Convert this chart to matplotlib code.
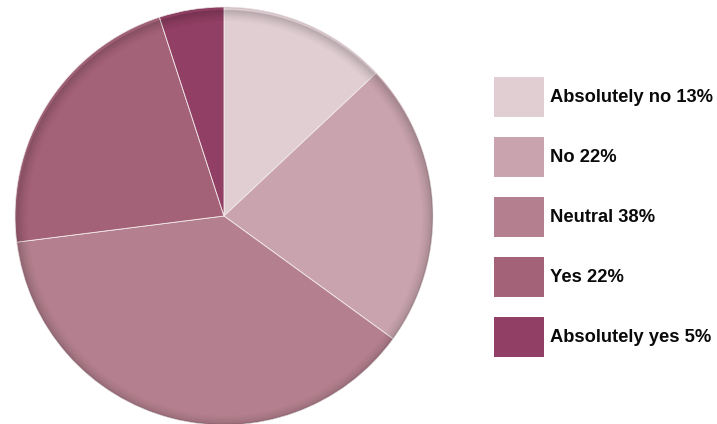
import numpy as np
import matplotlib
matplotlib.use('Agg')
import matplotlib.pyplot as plt
from matplotlib.patches import Wedge, Rectangle, Circle

labels = ['Absolutely no', 'No', 'Neutral', 'Yes', 'Absolutely yes']
shares = [13, 22, 38, 22, 5]
colors = ['#e0ced3', '#c9a4ae', '#b4808f', '#a46278', '#913f64']

plt.rcParams['font.family'] = ['Liberation Sans', 'DejaVu Sans']

fig = plt.figure(figsize=(7.17, 4.24), dpi=100)
W, H = 717, 424

# pie axes placed in pixel terms
cx, cy, r = 224, 216, 209
ax = fig.add_axes([(cx - r) / W, (H - cy - r) / H, 2 * r / W, 2 * r / H])

ax.pie(shares, colors=colors, startangle=90, counterclock=False, radius=1,
       wedgeprops=dict(edgecolor='#f3eaec', linewidth=0.6))

# inner shadow along the rim, a bit heavier at the top
clip = Circle((0, 0), 1, transform=ax.transData)
n = 24
band = 0.06
for i in range(n):
    rr = 1.0 - band * i / n
    a = 0.075 * (1 - i / n) ** 1.6
    ring = Wedge((0.004, -0.012), rr, 0, 360, width=band / n + 0.004,
                 facecolor='black', alpha=a, linewidth=0)
    ax.add_patch(ring)
    ring.set_clip_path(clip)
ax.add_patch(Wedge((0, 0), 1.0, 0, 360, width=0.006, facecolor='black',
                   alpha=0.08, linewidth=0))

ax.set_xlim(-1, 1)
ax.set_ylim(-1, 1)
ax.set_aspect('equal')
ax.axis('off')

# legend boxes and labels
box_x, box_w, box_h = 494, 50, 40
top0, step = 77, 60
for i, (lab, val, col) in enumerate(zip(labels, shares, colors)):
    top = top0 + i * step
    fig.add_artist(Rectangle((box_x / W, (H - top - box_h) / H), box_w / W, box_h / H,
                             transform=fig.transFigure, facecolor=col, edgecolor='none'))
    fig.text(550 / W, (H - top - box_h / 2) / H, f'{lab} {val}%',
             fontsize=13.2, fontweight='bold', color='#0a0a0a', va='center', ha='left')

fig.savefig('out.png', dpi=100)
